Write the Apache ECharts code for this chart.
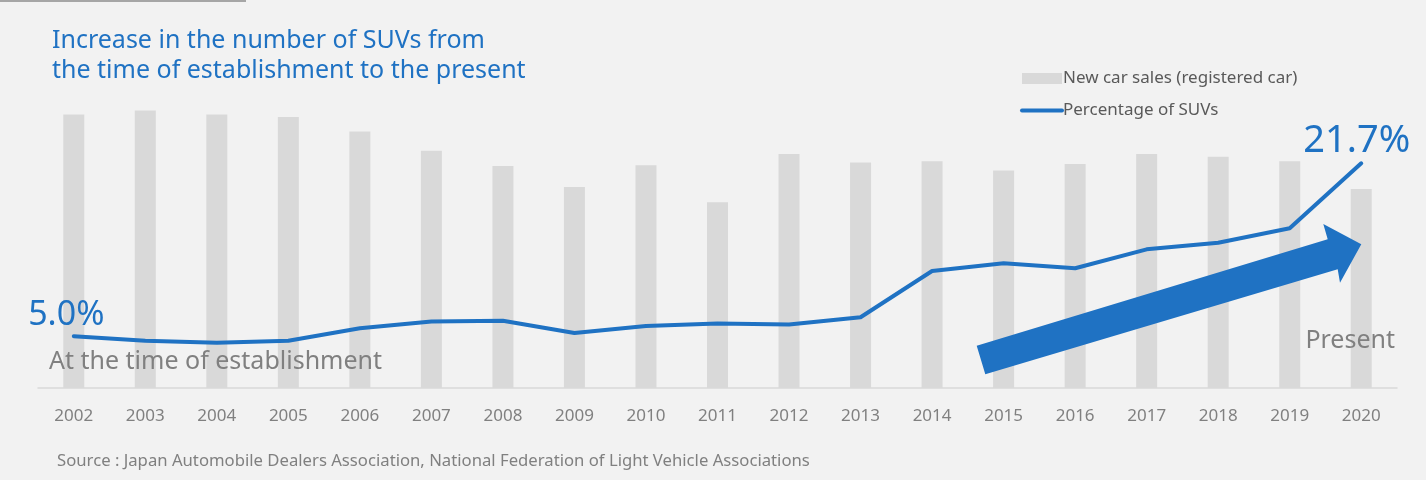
<!DOCTYPE html>
<html>
<head>
<meta charset="utf-8">
<script src="https://cdn.jsdelivr.net/npm/echarts@6/dist/echarts.min.js"></script>
<style>
html,body{margin:0;padding:0;background:#f2f2f2;}
#chart{width:1426px;height:480px;}
</style>
</head>
<body>
<div id="chart"></div>
<script>
const years = ['2002','2003','2004','2005','2006','2007','2008','2009','2010','2011','2012','2013','2014','2015','2016','2017','2018','2019','2020'];
// New car sales (registered cars), millions of units
const newCarSales = [4.15,4.21,4.15,4.11,3.89,3.60,3.37,3.05,3.38,2.82,3.55,3.42,3.44,3.30,3.40,3.55,3.51,3.44,3.02];
// Percentage of SUVs (%)
const suvShare = [5.0,4.57,4.37,4.57,5.76,6.42,6.50,5.31,5.99,6.23,6.13,6.83,11.30,12.04,11.56,13.39,14.03,15.42,21.7];

const seriesNames = ['New car sales (registered car)', 'Percentage of SUVs'];
const titleText = 'Increase in the number of SUVs from\nthe time of establishment to the present';
const sourceText = 'Source : Japan Automobile Dealers Association, National Federation of Light Vehicle Associations';
const startNote = 'At the time of establishment';
const endNote = 'Present';

const BLUE = '#1f72c3';
const GREY_TXT = '#808080';
const FONT = 'Noto Sans';

const lineData = suvShare.map((v, i) => {
  if (i === 0) {
    return {value: v, label: {show: true, position: [0, 0], offset: [-7, -20], align: 'center', verticalAlign: 'middle', fontSize: 34}};
  }
  if (i === suvShare.length - 1) {
    return {value: v, label: {show: true, position: [0, 0], offset: [-4, -22], align: 'center', verticalAlign: 'middle', fontSize: 38}};
  }
  return v;
});

const chart = echarts.init(document.getElementById('chart'), null, {renderer: 'canvas'});
chart.setOption({
  animation: false,
  backgroundColor: '#f2f2f2',
  textStyle: {fontFamily: FONT},
  title: {
    text: titleText,
    left: 47,
    top: 21,
    textStyle: {color: BLUE, fontSize: 25, fontWeight: 'normal', lineHeight: 30, fontFamily: FONT}
  },
  legend: {
    orient: 'vertical',
    left: 1015,
    top: 65,
    itemWidth: 40,
    itemHeight: 11,
    itemGap: 15,
    textStyle: {color: '#595959', fontSize: 17, fontFamily: FONT, padding: [0, 0, 0, -4]},
    data: [
      {name: seriesNames[0], icon: 'rect'},
      {name: seriesNames[1], itemStyle: {opacity: 0}, lineStyle: {width: 4, cap: 'round'}}
    ]
  },
  grid: {left: 38, right: 29, top: 98, bottom: 92, containLabel: false},
  xAxis: {
    type: 'category',
    data: years,
    boundaryGap: true,
    axisLine: {lineStyle: {color: '#d9d9d9', width: 1.5}},
    axisTick: {show: false},
    axisLabel: {color: GREY_TXT, fontSize: 17, margin: 20, fontFamily: FONT}
  },
  yAxis: [
    {type: 'value', min: 0, max: 4.4, show: false, splitLine: {show: false}},
    {type: 'value', min: 0, max: 28, show: false, splitLine: {show: false}}
  ],
  series: [
    {
      name: seriesNames[0],
      type: 'bar',
      yAxisIndex: 0,
      barWidth: 21,
      itemStyle: {color: '#d9d9d9'},
      data: newCarSales
    },
    {
      name: seriesNames[1],
      type: 'line',
      yAxisIndex: 1,
      symbol: 'circle',
      symbolSize: 1,
      showSymbol: true,
      itemStyle: {color: BLUE},
      lineStyle: {color: BLUE, width: 4, cap: 'round', join: 'round'},
      label: {
        show: false,
        color: BLUE,
        fontFamily: FONT,
        formatter: p => p.value.toFixed(1) + '%'
      },
      data: lineData,
      z: 5
    }
  ],
  graphic: [
    {type: 'line', shape: {x1: 0, y1: 1, x2: 246, y2: 1}, style: {stroke: '#a6a6a6', lineWidth: 2}, silent: true},
    {
      type: 'polygon',
      shape: {points: [[976.7,345.7],[1327.7,239.3],[1323.3,224],[1361.3,244.3],[1340,282.7],[1337.7,269.3],[985.3,374.3]]},
      style: {fill: BLUE},
      z: 10
    },
    {type: 'text', x: 49, y: 362, style: {text: startNote, fill: GREY_TXT, fontSize: 25, fontFamily: FONT, verticalAlign: 'middle', align: 'left'}, z: 10},
    {type: 'text', x: 1395, y: 341, style: {text: endNote, fill: GREY_TXT, fontSize: 25, fontFamily: FONT, verticalAlign: 'middle', align: 'right'}, z: 10},
    {type: 'text', x: 57, y: 461, style: {text: sourceText, fill: GREY_TXT, fontSize: 16.7, fontFamily: FONT, verticalAlign: 'middle', align: 'left'}, z: 10}
  ]
});
</script>
</body>
</html>
